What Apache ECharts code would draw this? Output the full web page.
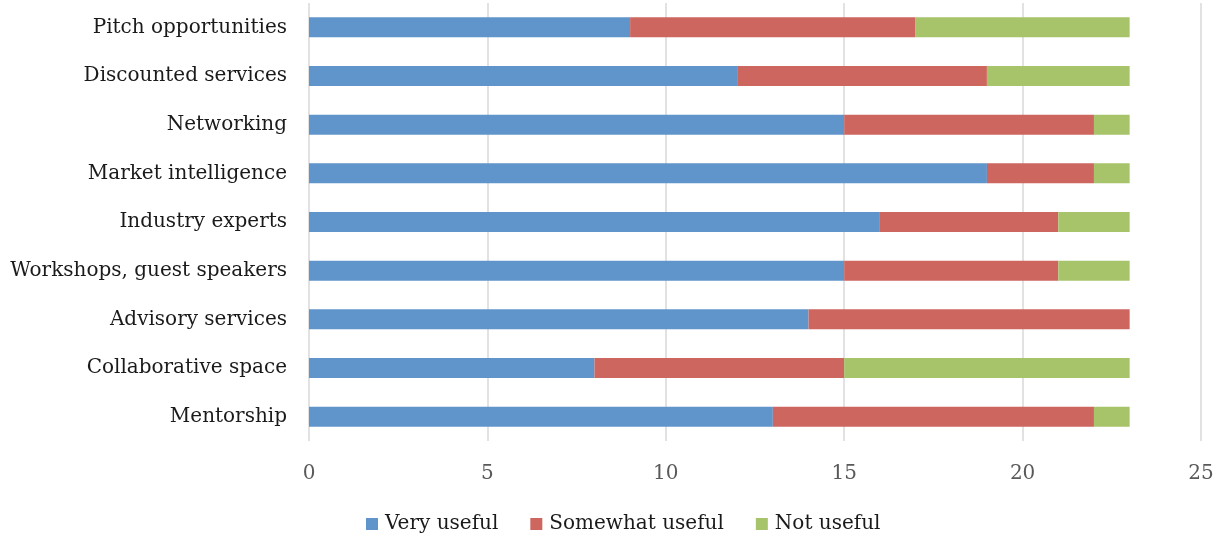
<!DOCTYPE html>
<html>
<head>
<meta charset="utf-8">
<script src="https://cdn.jsdelivr.net/npm/echarts@6/dist/echarts.min.js"></script>
<style>
  html, body { margin: 0; padding: 0; background: #fff; }
  #chart { width: 1225px; height: 541px; }
</style>
</head>
<body>
<div id="chart"></div>
<script>
// Categories listed bottom to top (ECharts category axes grow upward)
const categories = [
  'Mentorship',
  'Collaborative space',
  'Advisory services',
  'Workshops, guest speakers',
  'Industry experts',
  'Market intelligence',
  'Networking',
  'Discounted services',
  'Pitch opportunities'
];
const veryUseful     = [13, 8, 14, 15, 16, 19, 15, 12, 9];
const somewhatUseful = [9, 7, 9, 6, 5, 3, 7, 7, 8];
const notUseful      = [1, 8, 0, 2, 2, 1, 1, 4, 6];
const xTicks = { min: 0, max: 25, interval: 5 };

const FONT = 'DejaVu Serif';
const chart = echarts.init(document.getElementById('chart'), null, { renderer: 'canvas' });

function bar(name, data, color) {
  return {
    name, type: 'bar', stack: 'total', data,
    barWidth: 20,
    itemStyle: { color },
    emphasis: { disabled: true }
  };
}

chart.setOption({
  animation: false,
  textStyle: { fontFamily: FONT },
  grid: { left: 309, right: 24, top: 3, bottom: 100, containLabel: false },
  xAxis: {
    type: 'value',
    min: xTicks.min, max: xTicks.max, interval: xTicks.interval,
    axisLine: { show: false },
    axisTick: { show: false },
    splitLine: { lineStyle: { color: '#d9d9d9', width: 1.5 } },
    axisLabel: { color: '#595959', fontSize: 20, fontFamily: FONT, margin: 23 }
  },
  yAxis: {
    type: 'category',
    data: categories,
    axisLine: { show: false },
    axisTick: { show: false },
    axisLabel: { color: '#1a1a1a', fontSize: 20, fontFamily: FONT, margin: 22 }
  },
  legend: {
    bottom: 2,
    left: 361,
    itemWidth: 12, itemHeight: 12, itemGap: 32,
    icon: 'rect',
    textStyle: { color: '#1a1a1a', fontSize: 20, fontFamily: FONT, padding: [0, 0, 0, 2] },
    data: ['Very useful', 'Somewhat useful', 'Not useful']
  },
  series: [
    bar('Very useful', veryUseful, '#5f95ca'),
    bar('Somewhat useful', somewhatUseful, '#cd665f'),
    bar('Not useful', notUseful, '#a8c46b')
  ]
});
</script>
</body>
</html>
